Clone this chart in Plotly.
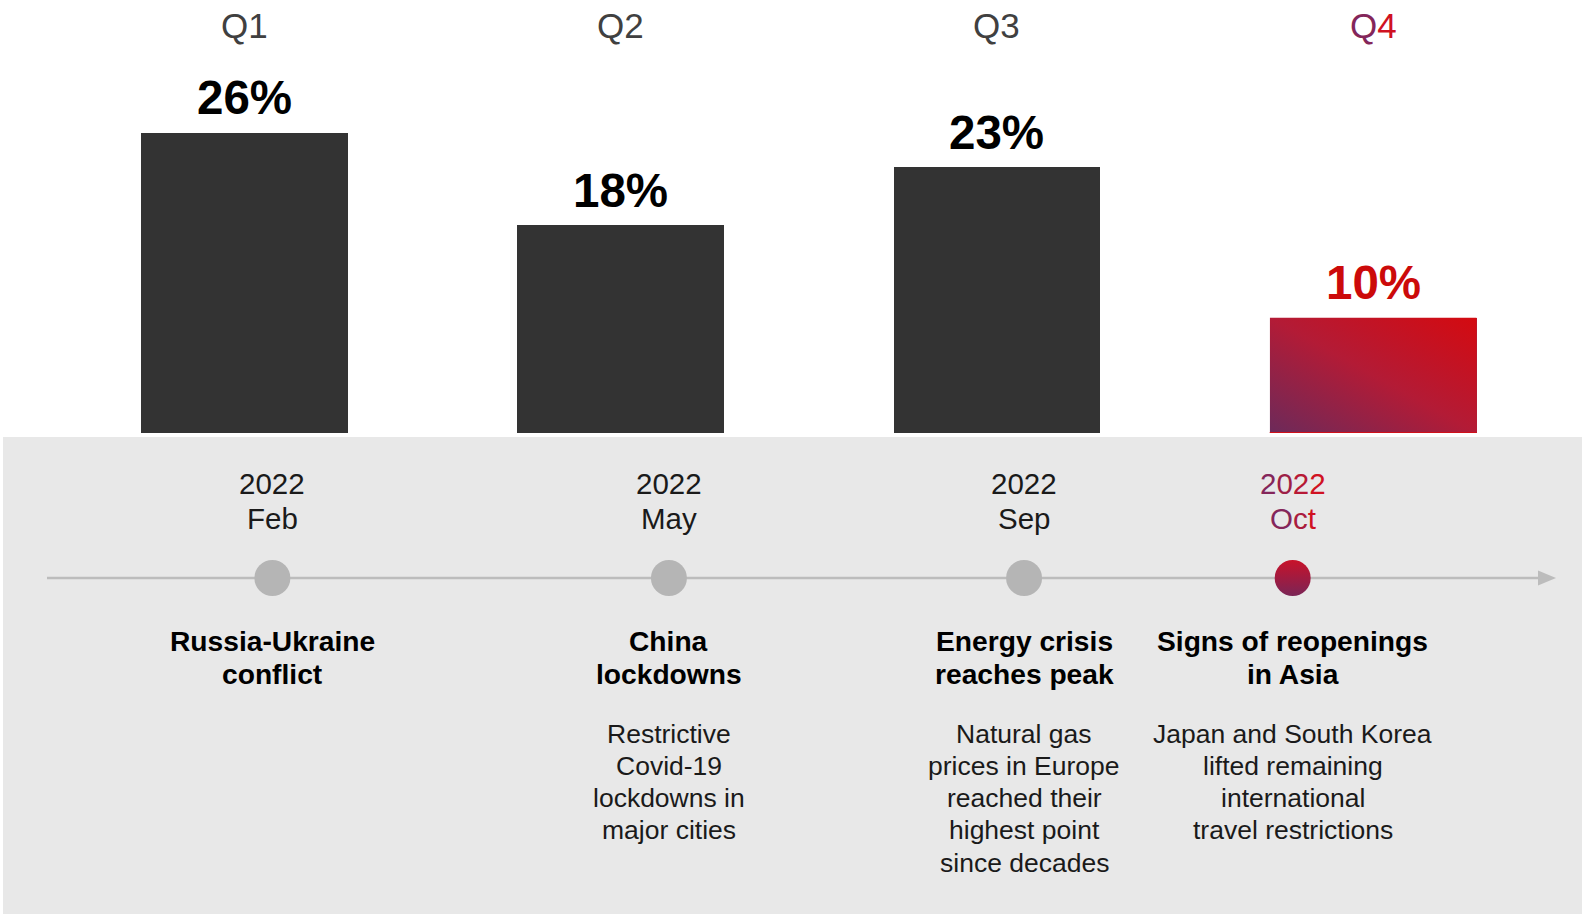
import base64
import plotly.graph_objects as go

# ---- data -------------------------------------------------------------
QUARTERS = ["Q1", "Q2", "Q3", "Q4"]
SHARE_PCT = [26, 18, 23, 10]
EVENT_YEAR = ["2022", "2022", "2022", "2022"]
EVENT_MONTH = ["Feb", "May", "Sep", "Oct"]
EVENT_TITLE = [
    ["Russia-Ukraine", "conflict"],
    ["China", "lockdowns"],
    ["Energy crisis", "reaches peak"],
    ["Signs of reopenings", "in Asia"],
]
EVENT_TEXT = [
    [],
    ["Restrictive", "Covid-19", "lockdowns in", "major cities"],
    ["Natural gas", "prices in Europe", "reached their", "highest point", "since decades"],
    ["Japan and South Korea", "lifted remaining", "international", "travel restrictions"],
]
HIGHLIGHT = 3  # latest quarter is emphasised

# ---- layout constants ---------------------------------------------------
W, H = 1582, 914
FONT = "Liberation Sans, Arial, sans-serif"
BASE_PX = 433           # bar baseline (px from top)
PX_PER_PCT = 11.55      # vertical scale of the bars
X_RANGE = [-0.65, 3.555]
BAR_WIDTH = 0.55
EVENT_SHIFT = [0.074, 0.128, 0.072, -0.214]  # event marker offset from its quarter
TIMELINE_PX = 578
DARK = "#333333"
GREY_DOT = "#b5b5b5"
C_START, C_MID, C_END = "#6c2a5a", "#b31b36", "#d40a10"


def py(px):
    """pixel row -> paper y"""
    return 1 - px / H


def hex2rgb(h):
    h = h.lstrip("#")
    return tuple(int(h[i:i + 2], 16) for i in (0, 2, 4))


def mix(c0, c1, t):
    a, b = hex2rgb(c0), hex2rgb(c1)
    return "#%02x%02x%02x" % tuple(round(a[k] + (b[k] - a[k]) * t) for k in range(3))


def gradient_text(s, c0="#84265a", c1="#d01222"):
    n = max(len(s) - 1, 1)
    return "".join(
        f"<span style='color:{mix(c0, c1, i / n)}'>{ch}</span>" for i, ch in enumerate(s)
    )


idx = list(range(len(QUARTERS)))
event_x = [i + EVENT_SHIFT[i] for i in idx]

fig = go.Figure()

# bars
fig.add_trace(go.Bar(
    x=idx, y=SHARE_PCT, yaxis="y2", width=BAR_WIDTH,
    marker=dict(color=[C_MID if i == HIGHLIGHT else DARK for i in idx], line_width=0),
    hoverinfo="skip", showlegend=False,
))

# timeline dots
fig.add_trace(go.Scatter(
    x=[event_x[i] for i in idx if i != HIGHLIGHT],
    y=[py(TIMELINE_PX)] * (len(idx) - 1),
    mode="markers", marker=dict(size=36, color=GREY_DOT, line_width=0),
    hoverinfo="skip", showlegend=False,
))
fig.add_trace(go.Scatter(
    x=[event_x[HIGHLIGHT]], y=[py(TIMELINE_PX)],
    mode="markers",
    marker=dict(size=36, color="#c8122a", line_width=0,
                gradient=dict(type="vertical", color="#7a2556")),
    hoverinfo="skip", showlegend=False,
))

# diagonal gradient fill for the highlighted bar
svg = (
    '<svg xmlns="http://www.w3.org/2000/svg" width="200" height="120" '
    'viewBox="0 0 200 120" preserveAspectRatio="none">'
    '<defs><linearGradient id="g" x1="0" y1="1" x2="1" y2="0">'
    f'<stop offset="0" stop-color="{C_START}"/>'
    f'<stop offset="0.5" stop-color="{C_MID}"/>'
    f'<stop offset="1" stop-color="{C_END}"/>'
    '</linearGradient></defs>'
    '<rect width="200" height="120" fill="url(#g)"/></svg>'
)
fig.add_layout_image(dict(
    source="data:image/svg+xml;base64," + base64.b64encode(svg.encode()).decode(),
    xref="x", yref="y2", x=HIGHLIGHT, y=SHARE_PCT[HIGHLIGHT],
    xanchor="center", yanchor="top",
    sizex=BAR_WIDTH, sizey=SHARE_PCT[HIGHLIGHT], sizing="stretch", layer="above",
))

shapes = [
    # grey band behind the timeline
    dict(type="rect", xref="paper", yref="paper", x0=3 / W, x1=1, y0=0, y1=py(437),
         fillcolor="#e8e8e8", line_width=0, layer="below"),
    # timeline axis
    dict(type="line", xref="paper", yref="paper", x0=47 / W, x1=1540 / W,
         y0=py(TIMELINE_PX), y1=py(TIMELINE_PX), line=dict(color="#bcbcbc", width=2.5),
         layer="below"),
    dict(type="path", xref="paper", yref="paper",
         path=f"M {1538 / W},{py(570.5)} L {1556 / W},{py(TIMELINE_PX)} L {1538 / W},{py(585.5)} Z",
         fillcolor="#bcbcbc", line_width=0),
    # red base line of the highlighted bar
    dict(type="line", xref="x", yref="y2",
         x0=HIGHLIGHT - BAR_WIDTH / 2, x1=HIGHLIGHT + BAR_WIDTH / 2, y0=0, y1=0,
         line=dict(color="#d0101a", width=2)),
]

ann = []


def text(x, y_px, s, size, color="#1a1a1a", bold=False):
    ann.append(dict(
        x=x, y=py(y_px), xref="x", yref="paper", text=s, showarrow=False,
        xanchor="center", yanchor="middle",
        font=dict(family=FONT, size=size, color=color, weight=700 if bold else 400),
    ))


for i in idx:
    hi = i == HIGHLIGHT
    # quarter header
    text(i, 25, gradient_text(QUARTERS[i]) if hi else QUARTERS[i], 35, "#404040")
    # value label above the bar
    ann.append(dict(
        x=i, y=SHARE_PCT[i], xref="x", yref="y2", text=f"{SHARE_PCT[i]}%",
        showarrow=False, xanchor="center", yanchor="middle", yshift=35,
        font=dict(family=FONT, size=47.5, weight=700, color="#cc0a0a" if hi else "#000000"),
    ))
    ex = event_x[i]
    # date
    text(ex, 483, gradient_text(EVENT_YEAR[i]) if hi else EVENT_YEAR[i], 29.5)
    text(ex, 518, gradient_text(EVENT_MONTH[i]) if hi else EVENT_MONTH[i], 29.5)
    # event title and description
    for k, line in enumerate(EVENT_TITLE[i]):
        text(ex, 641 + k * 33, line, 28.2, "#000000", bold=True)
    for k, line in enumerate(EVENT_TEXT[i]):
        text(ex, 733.5 + k * 32.3, line, 26.5)

fig.update_layout(
    width=W, height=H,
    margin=dict(l=0, r=0, t=0, b=0),
    paper_bgcolor="white", plot_bgcolor="rgba(0,0,0,0)",
    xaxis=dict(range=X_RANGE, visible=False, fixedrange=True),
    yaxis=dict(domain=[0, 1], range=[0, 1], visible=False, fixedrange=True),
    yaxis2=dict(domain=[py(BASE_PX), 1], range=[0, BASE_PX / PX_PER_PCT],
                visible=False, anchor="x", fixedrange=True),
    shapes=shapes, annotations=ann,
    bargap=0, showlegend=False,
)

fig.write_html("out.html", config={"displayModeBar": False})
